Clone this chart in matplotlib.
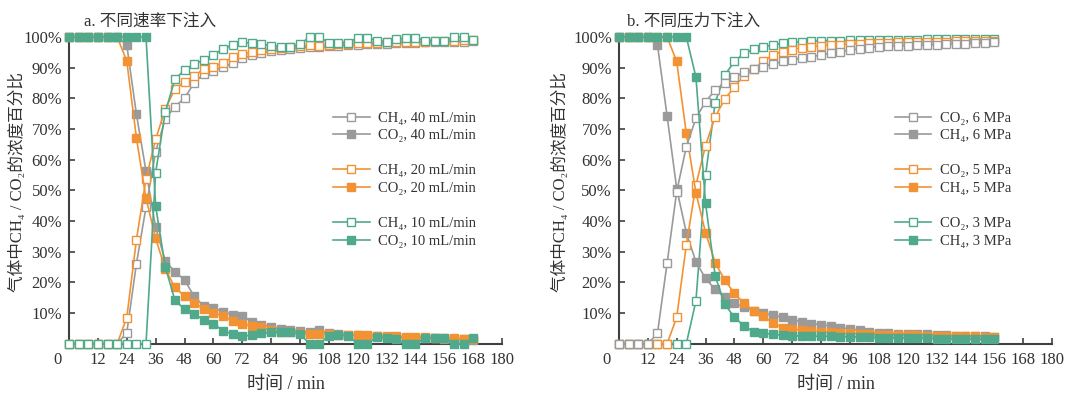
import matplotlib
matplotlib.use("Agg")
import matplotlib.pyplot as plt
from matplotlib.lines import Line2D
from matplotlib.transforms import ScaledTranslation

plt.rcParams['font.family'] = ['Liberation Serif', 'Noto Sans CJK SC', 'DejaVu Sans']
plt.rcParams['font.size'] = 11
TXT = '#333333'

# Colours
GREY = '#9a9a9a'
ORANGE = '#f29233'
GREEN = '#4fa98a'

# ---- panel a: different injection rates (time, min) ----
t_a = [0, 4, 8, 12, 16, 20, 24, 28, 32, 36, 40, 44, 48, 52, 56, 60, 64, 68, 72, 76, 80,
       84, 88, 92, 96, 100, 104, 108, 112, 116, 120, 124, 128, 132, 136, 140, 144, 148,
       152, 156, 160, 164, 168]

ch4_40 = [0, 0, 0, 0, 0, 0, 3.6, 26, 44.5, 62.6, 73.3, 77.3, 80, 85, 88, 89, 90.3, 91.4,
          93, 94, 94.8, 95.3, 95.8, 96.2, 96.5, 96.8, 96.6, 97, 97.2, 97.4, 97.5, 97.6,
          97.7, 97.8, 97.9, 98, 98.1, 98.2, 98.3, 98.3, 98.4, 98.5, 98.6]
co2_40 = [100, 100, 100, 100, 100, 100, 97.4, 74.9, 56.3, 38, 27, 23.5, 20.8, 15.5, 12.3,
          11.6, 10.5, 9.4, 9.2, 7.2, 6.2, 5.6, 4.8, 4.4, 4.1, 3.8, 4.4, 3.5, 3.2, 3.0, 2.8,
          2.6, 2.5, 2.3, 2.2, 2.0, 2.0, 1.9, 1.8, 1.7, 1.6, 1.5, 1.4]
ch4_20 = [0, 0, 0, 0, 0, 0, 8.5, 33.8, 53.7, 66.6, 76.5, 83, 85.4, 87.3, 89.5, 90.3, 91.6,
          93.4, 94.4, 95, 95.6, 96.2, 96.5, 96.7, 97.0, 97.3, 97.2, 97.4, 97.6, 97.8, 97.9,
          98.0, 98.1, 98.2, 98.3, 98.4, 98.4, 98.5, 98.6, 98.7, 98.8, 98.9, 99.0]
co2_20 = [100, 100, 100, 100, 100, 100, 92.2, 67.2, 47.4, 34.4, 24.4, 18.4, 15.5, 13.2,
          11.5, 10.2, 9.1, 7.5, 6.4, 5.9, 5.5, 4.5, 4.0, 3.8, 3.5, 3.2, 3.2, 3.3, 3.0, 2.8,
          2.8, 2.8, 2.6, 2.4, 2.4, 2.3, 2.3, 2.1, 2.0, 1.9, 1.8, 1.6, 1.5]
ch4_10 = [0, 0, 0, 0, 0, 0, 0, 0, 0, 55.8, 75.4, 86.2, 89.2, 91.1, 92.5, 94.1, 96.1, 97.4,
          98.3, 97.9, 97.6, 97.2, 96.8, 96.8, 97.6, 100, 100, 98.1, 98.1, 98.1, 99.8, 99.8,
          98.8, 98.4, 99.2, 99.8, 99.8, 98.8, 98.8, 98.8, 100, 100, 99.0]
co2_10 = [100, 100, 100, 100, 100, 100, 100, 100, 100, 44.9, 25.1, 14.2, 11.3, 9.6, 7.9,
          6.6, 4.2, 3.2, 2.5, 2.8, 3.4, 3.7, 3.7, 3.7, 3.2, 0, 0, 2.6, 2.8, 2.6, 0, 0, 2.3,
          1.8, 1.5, 0, 0, 2.0, 2.0, 2.0, 0, 0, 1.8]

# ---- panel b: different pressures ----
t_b = [0, 4, 8, 12, 16, 20, 24, 28, 32, 36, 40, 44, 48, 52, 56, 60, 64, 68, 72, 76, 80,
       84, 88, 92, 96, 100, 104, 108, 112, 116, 120, 124, 128, 132, 136, 140, 144, 148,
       152, 156]

co2_6 = [0, 0, 0, 0, 3.4, 26.2, 49.6, 64.2, 73.5, 78.9, 82.7, 85.1, 86.8, 88.7, 89.5, 90.3,
         91.2, 92, 92.5, 93.2, 93.6, 94.1, 94.7, 95.2, 95.7, 96.1, 96.5, 96.8, 97, 97.1,
         97.2, 97.3, 97.4, 97.5, 97.6, 97.7, 97.8, 97.9, 98.0, 98.3]
ch4_6 = [100, 100, 100, 100, 97.4, 74.3, 50.6, 36.2, 26.7, 21.3, 17.7, 15.1, 13.2, 11.9,
         10.8, 9.9, 9.4, 8.6, 7.9, 7.2, 6.6, 6.2, 5.8, 5.3, 4.8, 4.5, 3.9, 3.5, 3.4, 3.3,
         3.3, 3.2, 3.1, 3.0, 2.8, 2.7, 2.6, 2.6, 2.5, 2.1]
co2_5 = [0, 0, 0, 0, 0, 0, 8.6, 32.2, 51.7, 64.6, 74, 79.7, 83.8, 87.3, 89.5, 92, 94.2,
         95.2, 95.9, 96.5, 96.8, 97.1, 97.3, 97.5, 97.7, 97.8, 97.9, 98.0, 98.1, 98.2, 98.3,
         98.3, 98.4, 98.5, 98.5, 98.6, 98.6, 98.7, 98.7, 98.8]
ch4_5 = [100, 100, 100, 100, 100, 100, 92, 68.6, 49.2, 36.2, 26.4, 20.8, 16.4, 13.2, 10.8,
         9.0, 6.8, 5.3, 4.7, 4.5, 4.2, 4.0, 3.8, 3.6, 3.5, 3.3, 3.1, 3.0, 2.9, 2.9, 2.8,
         2.8, 2.7, 2.7, 2.6, 2.6, 2.5, 2.4, 2.3, 2.2]
co2_3 = [0, 0, 0, 0, 0, 0, 0, 0, 14, 55, 78.6, 87.6, 92, 94.6, 96, 96.8, 97.4, 97.9, 98.2,
         98.5, 98.6, 98.7, 98.8, 98.8, 98.9, 98.9, 99.0, 99.0, 99.0, 99.1, 99.1, 99.1, 99.2,
         99.2, 99.2, 99.2, 99.3, 99.3, 99.3, 99.3]
ch4_3 = [100, 100, 100, 100, 100, 100, 100, 100, 86.9, 45.8, 22.1, 12.9, 8.6, 5.8, 3.9,
         3.4, 3.1, 2.8, 2.6, 2.5, 2.5, 2.4, 2.4, 2.3, 2.3, 2.2, 2.1, 2.0, 2.0, 1.9, 1.9,
         1.8, 1.8, 1.7, 1.7, 1.6, 1.6, 1.6, 1.5, 1.5]

xticks = [0, 12, 24, 36, 48, 60, 72, 84, 96, 108, 120, 132, 144, 156, 168, 180]
yticks = [10, 20, 30, 40, 50, 60, 70, 80, 90, 100]

fig = plt.figure(figsize=(10.8, 3.97), dpi=100)
ax_a = fig.add_axes([0.0639, 0.134, 0.401, 0.773])
ax_b = fig.add_axes([0.5731, 0.134, 0.401, 0.773])


def draw(ax, t, y, color, filled, z, label):
    ax.plot(t, y, color=color, lw=1.2, marker='s', ms=6, mew=1.0,
            mec=color, mfc=color if filled else 'white',
            clip_on=False, zorder=z, label=label)


# panel a
draw(ax_a, t_a, ch4_40, GREY, False, 3, 'CH₄, 40 mL/min')
draw(ax_a, t_a, co2_40, GREY, True, 3.1, 'CO₂, 40 mL/min')
draw(ax_a, t_a, ch4_20, ORANGE, False, 4, 'CH₄, 20 mL/min')
draw(ax_a, t_a, co2_20, ORANGE, True, 4.1, 'CO₂, 20 mL/min')
draw(ax_a, t_a, ch4_10, GREEN, False, 5, 'CH₄, 10 mL/min')
draw(ax_a, t_a, co2_10, GREEN, True, 5.1, 'CO₂, 10 mL/min')

# panel b
draw(ax_b, t_b, co2_6, GREY, False, 5, 'CO₂, 6 MPa')
draw(ax_b, t_b, ch4_6, GREY, True, 3.1, 'CH₄, 6 MPa')
draw(ax_b, t_b, co2_5, ORANGE, False, 4, 'CO₂, 5 MPa')
draw(ax_b, t_b, ch4_5, ORANGE, True, 4.1, 'CH₄, 5 MPa')
draw(ax_b, t_b, co2_3, GREEN, False, 3, 'CO₂, 3 MPa')
draw(ax_b, t_b, ch4_3, GREEN, True, 5.1, 'CH₄, 3 MPa')

blank = Line2D([], [], color='none')

for ax, title, tx, lx, ylx in [(ax_a, 'a. 不同速率下注入', 0.187, 0.61, -0.10),
                               (ax_b, 'b. 不同压力下注入', 0.173, 0.637, -0.116)]:
    ax.set_xlim(0, 180)
    ax.set_ylim(0, 100)
    ax.set_xticks(xticks)
    ax.set_xticklabels([str(v) for v in xticks])
    ax.set_yticks(yticks)
    ax.set_yticklabels([f'{v}%' for v in yticks])
    ax.tick_params(direction='in', length=4, width=1.2, color='#404040',
                   labelcolor=TXT, labelsize=12)
    ax.tick_params(axis='x', pad=6)
    ax.tick_params(axis='y', pad=5)
    for s in ['top', 'right']:
        ax.spines[s].set_visible(False)
    for s in ['left', 'bottom']:
        ax.spines[s].set_color('#404040')
        ax.spines[s].set_linewidth(1.5)
    # the "0" label sits left of the origin
    lab0 = ax.get_xticklabels()[0]
    lab0.set_transform(lab0.get_transform() + ScaledTranslation(-0.12, 0, fig.dpi_scale_trans))

    ax.text(tx, 1.05, title, transform=ax.transAxes, ha='center', va='center',
            fontsize=12, color=TXT)
    ax.set_xlabel('时间 / min', fontsize=13, color=TXT)
    ax.xaxis.set_label_coords(0.5, -0.105)
    ax.set_ylabel('气体中CH₄ / CO₂的浓度百分比', fontsize=12, color=TXT)
    ax.yaxis.set_label_coords(ylx, 0.527)

    h, l = ax.get_legend_handles_labels()
    handles = [h[0], h[1], blank, h[2], h[3], blank, h[4], h[5]]
    labels = [l[0], l[1], '', l[2], l[3], '', l[4], l[5]]
    leg = ax.legend(handles, labels, loc='upper left', bbox_to_anchor=(lx, 0.757),
                    frameon=False, fontsize=10.5, handlelength=2.5, handletextpad=0.6,
                    labelspacing=0.3, borderpad=0, borderaxespad=0, numpoints=1)
    for txt in leg.get_texts():
        txt.set_color(TXT)

fig.savefig('out.png', dpi=100)
